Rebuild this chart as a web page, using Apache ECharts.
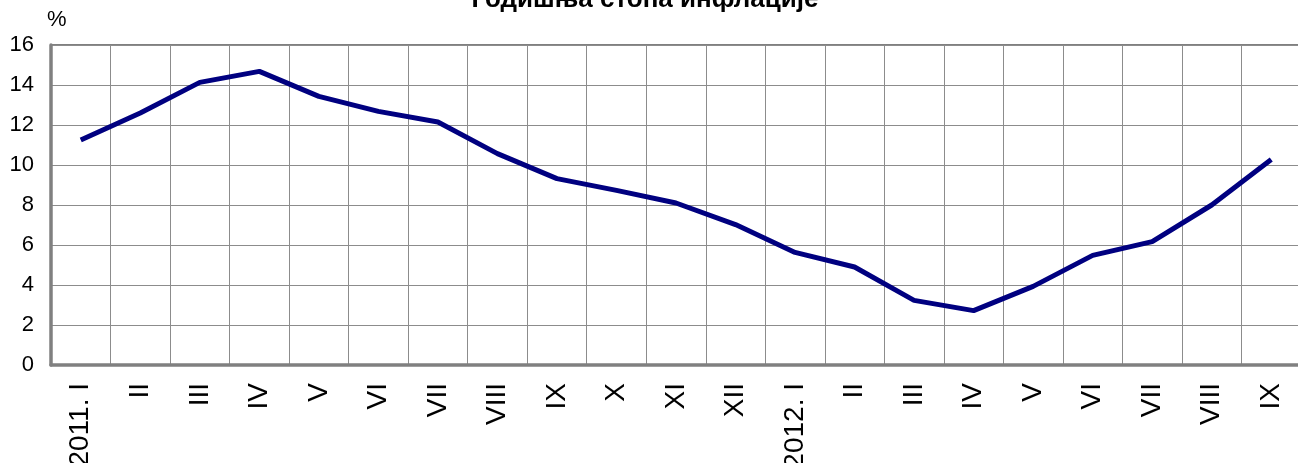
<!DOCTYPE html>
<html>
<head>
<meta charset="utf-8">
<script src="https://cdn.jsdelivr.net/npm/echarts@6/dist/echarts.min.js"></script>
<style>
  html, body { margin: 0; padding: 0; background: #fff; }
  #chart { width: 1298px; height: 463px; }
</style>
</head>
<body>
<div id="chart"></div>
<script>
// месеци
const months = ["2011. I", "II", "III", "IV", "V", "VI", "VII", "VIII", "IX", "X", "XI", "XII",
                "2012. I", "II", "III", "IV", "V", "VI", "VII", "VIII", "IX"];
// годишња стопа инфлације, %
const inflation = [11.25, 12.6, 14.13, 14.68, 13.43, 12.68, 12.15, 10.57, 9.32, 8.73, 8.1, 7.02,
                   5.63, 4.9, 3.23, 2.72, 3.93, 5.48, 6.17, 8.0, 10.28];
const yTicks = { min: 0, max: 16, interval: 2 };

const font = "'Liberation Sans', Arial, sans-serif";
const chart = echarts.init(document.getElementById("chart"));

const option = {
    backgroundColor: "#ffffff",
    animation: false,
    title: {
        text: "Годишња стопа инфлације",
        left: 640,
        textAlign: "center",
        top: -18,
        textStyle: { fontFamily: font, fontSize: 26, fontWeight: "bold", color: "#000" }
    },
    grid: {
        left: 51,
        top: 45,
        width: 1250,
        bottom: 98,
        show: true,
        borderColor: "#808080",
        borderWidth: 2,
        containLabel: false,
        outerBoundsMode: "none"
    },
    xAxis: {
        type: "category",
        data: months.map((m, i) => i),
        boundaryGap: true,
        axisLine: { show: true, lineStyle: { color: "#808080", width: 3.5 } },
        axisTick: { show: false },
        splitLine: { show: true, interval: 0, lineStyle: { color: "#8c8c8c", width: 1 } },
        axisLabel: {
            interval: 0,
            rotate: 90,
            margin: 18,
            fontFamily: font,
            fontSize: 28,
            color: "#000",
            formatter: v => months[v]
        }
    },
    yAxis: {
        type: "value",
        min: yTicks.min,
        max: yTicks.max,
        interval: yTicks.interval,
        name: "%",
        nameLocation: "end",
        nameGap: 14,
        nameTextStyle: { fontFamily: font, fontSize: 22, color: "#000", align: "left", padding: [0, 0, 0, -4] },
        axisLine: { show: true, lineStyle: { color: "#808080", width: 3.5 } },
        axisTick: { show: false },
        splitLine: { show: true, lineStyle: { color: "#8c8c8c", width: 1 } },
        axisLabel: { margin: 17, fontFamily: font, fontSize: 22, color: "#000" }
    },
    series: [{
        type: "line",
        data: inflation,
        symbol: "none",
        smooth: false,
        lineStyle: { color: "#000080", width: 5 }
    }]
};
chart.setOption(option);
</script>
</body>
</html>
